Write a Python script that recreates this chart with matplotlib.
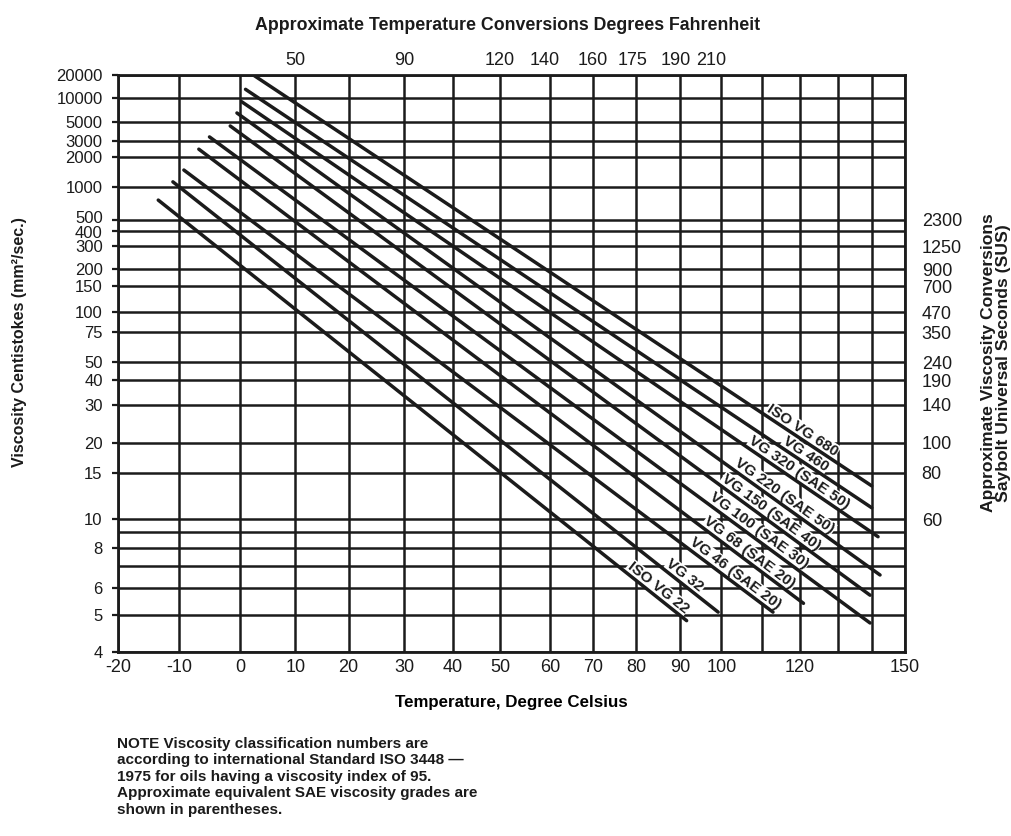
import numpy as np
import matplotlib
matplotlib.use("Agg")
import matplotlib.pyplot as plt
import matplotlib.transforms as mtransforms

plt.rcParams["font.family"] = ["Liberation Sans", "DejaVu Sans"]

# celsius gridlines and where each one sits across the chart (0..1)
temp_knots = [-20, -10, 0, 10, 20, 30, 40, 50, 60, 70, 80, 90, 100, 110, 120, 130, 140, 150]
temp_frac = [0.0, 0.0775, 0.1550, 0.2255, 0.2929, 0.3634, 0.4257, 0.4854, 0.5489,
             0.6036, 0.6588, 0.7141, 0.7668, 0.8189, 0.8666, 0.9155, 0.9577, 1.0]

# viscosity grade lines: start and end points (deg C, cSt)
grades = ["ISO VG 680", "VG 460", "VG 320 (SAE 50)", "VG 220 (SAE 50)", "VG 150 (SAE 40)",
          "VG 100 (SAE 30)", "VG 68 (SAE 20)", "VG 46 (SAE 20)", "VG 32", "ISO VG 22"]
t_start = [2.4, 1.0, 0.3, -0.5, -1.6, -5.0, -6.75, -9.2, -11.0, -13.4]
v_start = [20000, 12800, 8850, 6400, 4470, 3340, 2440, 1470, 1120, 750]
t_end = [140, 140, 141.9, 142.5, 139.5, 139.5, 120.9, 112.8, 99.2, 91.6]
v_end = [13.3, 11.0, 8.7, 6.55, 5.7, 4.76, 5.4, 5.1, 5.1, 4.83]
label_t = [119.5, 120.3, 118.6, 114.6, 111.0, 107.9, 105.7, 102.1, 90.0, 83.8]

# axes ticks
c_ticks = [-20, -10, 0, 10, 20, 30, 40, 50, 60, 70, 80, 90, 100, 120, 150]
c_grid_extra = [110, 130, 140]
cst_ticks = [20000, 10000, 5000, 3000, 2000, 1000, 500, 400, 300, 200, 150, 100,
             75, 50, 40, 30, 20, 15, 10, 8, 6, 5, 4]
cst_grid_extra = [9, 7]
f_labels = ["50", "90", "120", "140", "160", "175", "190", "210"]
f_at_c = [10, 30, 50, 59, 70, 79, 89, 97.5]
sus_labels = ["2300", "1250", "900", "700", "470", "350", "240", "190", "140", "100", "80", "60"]
sus_at_cst = [500, 300, 200, 150, 100, 75, 50, 40, 30, 20, 15, 10]

note = ("NOTE Viscosity classification numbers are\n"
        "according to international Standard ISO 3448 \u2014\n"
        "1975 for oils having a viscosity index of 95.\n"
        "Approximate equivalent SAE viscosity grades are\n"
        "shown in parentheses.")


def temp_fwd(t):
    return np.interp(np.asarray(t, float), temp_knots, temp_frac)


def temp_inv(f):
    return np.interp(np.asarray(f, float), temp_frac, temp_knots)


def visc_fwd(v):
    with np.errstate(all="ignore"):
        return np.log10(np.log10(np.asarray(v, float) + 0.7))


def visc_inv(w):
    with np.errstate(all="ignore"):
        return 10 ** (10 ** np.asarray(w, float)) - 0.7


ink = "#1b1b1b"
W, H = 1011, 836
fig = plt.figure(figsize=(W / 100, H / 100), dpi=100)
ax = fig.add_axes([118 / W, 1 - 651.7 / H, 787 / W, 576.7 / H])

ax.set_xscale("function", functions=(temp_fwd, temp_inv))
ax.set_yscale("function", functions=(visc_fwd, visc_inv))
ax.set_xlim(-20, 150)
ax.set_ylim(4, 20000)

ax.set_xticks(c_ticks, labels=[str(c) for c in c_ticks])
ax.set_xticks(c_grid_extra, minor=True)
ax.set_yticks(cst_ticks, labels=[str(c) for c in cst_ticks])
ax.set_yticks(cst_grid_extra, minor=True)
ax.tick_params(axis="x", which="both", length=0, pad=5, labelsize=13, colors=ink)
ax.tick_params(axis="y", which="major", length=4, width=1.6, pad=7, labelsize=12, colors=ink)
ax.tick_params(axis="y", which="minor", length=0)
ax.set_axisbelow(True)
ax.grid(which="both", color=ink, lw=1.8)
for s in ax.spines.values():
    s.set_linewidth(2.0)
    s.set_color(ink)

# 500 and 400 sit very close together: lift 500 a touch, as on the scan
for tk, val in zip(ax.yaxis.get_major_ticks(), cst_ticks):
    if val in (500, 400):
        dy = 0.03 if val == 500 else -0.012
        tk.label1.set_transform(tk.label1.get_transform()
                                + mtransforms.ScaledTranslation(0, dy, fig.dpi_scale_trans))

ax.set_xlabel("Temperature, Degree Celsius", fontsize=12.2, fontweight="bold", labelpad=14)

# top: fahrenheit
axt = ax.twiny()
axt.set_xscale("function", functions=(temp_fwd, temp_inv))
axt.set_xlim(-20, 150)
axt.set_xticks(f_at_c, labels=f_labels)
axt.tick_params(axis="x", length=0, pad=4, labelsize=13, colors=ink)
for s in axt.spines.values():
    s.set_visible(False)

# right: saybolt seconds
axr = ax.twinx()
axr.set_yscale("function", functions=(visc_fwd, visc_inv))
axr.set_ylim(4, 20000)
axr.set_yticks(sus_at_cst, labels=sus_labels)
axr.set_yticks([], minor=True)
axr.tick_params(axis="y", length=0, pad=12, labelsize=13, colors=ink)
for s in axr.spines.values():
    s.set_visible(False)

for name, t0, v0, t1, v1, lt in zip(grades, t_start, v_start, t_end, v_end, label_t):
    ax.plot([t0, t1], [v0, v1], color=ink, lw=2.5, solid_capstyle="round", zorder=3)

    p0 = ax.transData.transform((t0, v0))
    p1 = ax.transData.transform((t1, v1))
    d = p1 - p0
    ang = np.degrees(np.arctan2(d[1], d[0]))
    xd = ax.transData.transform((lt, 100))[0]
    p = p0 + (xd - p0[0]) / d[0] * d
    n = np.array([-d[1], d[0]]) / np.hypot(*d)
    x, y = ax.transData.inverted().transform(p + n * 8)
    ax.text(x, y, name, rotation=ang, rotation_mode="anchor", ha="center", va="center",
            fontsize=11, fontweight="bold", color=ink, zorder=2.5,
            bbox=dict(fc="white", ec="none", pad=0.6))

fig.text(20 / W, 1 - 342 / H, "Viscosity Centistokes (mm\u00b2/sec.)", rotation=90,
         ha="center", va="center", fontsize=11.5, fontweight="bold", color=ink)
fig.text(508 / W, 1 - 26 / H, "Approximate Temperature Conversions Degrees Fahrenheit",
         ha="center", va="center", fontsize=12.8, fontweight="bold", color=ink)
fig.text(996 / W, 1 - 363 / H,
         "Approximate Viscosity Conversions\nSaybolt Universal Seconds (SUS)",
         rotation=90, ha="center", va="center", fontsize=12.6, fontweight="bold",
         color=ink, linespacing=0.95)
fig.text(117 / W, 1 - 737 / H, note, ha="left", va="top", fontsize=11,
         fontweight="bold", color=ink, linespacing=1.22)

fig.savefig("out.png", dpi=100, facecolor="white")
